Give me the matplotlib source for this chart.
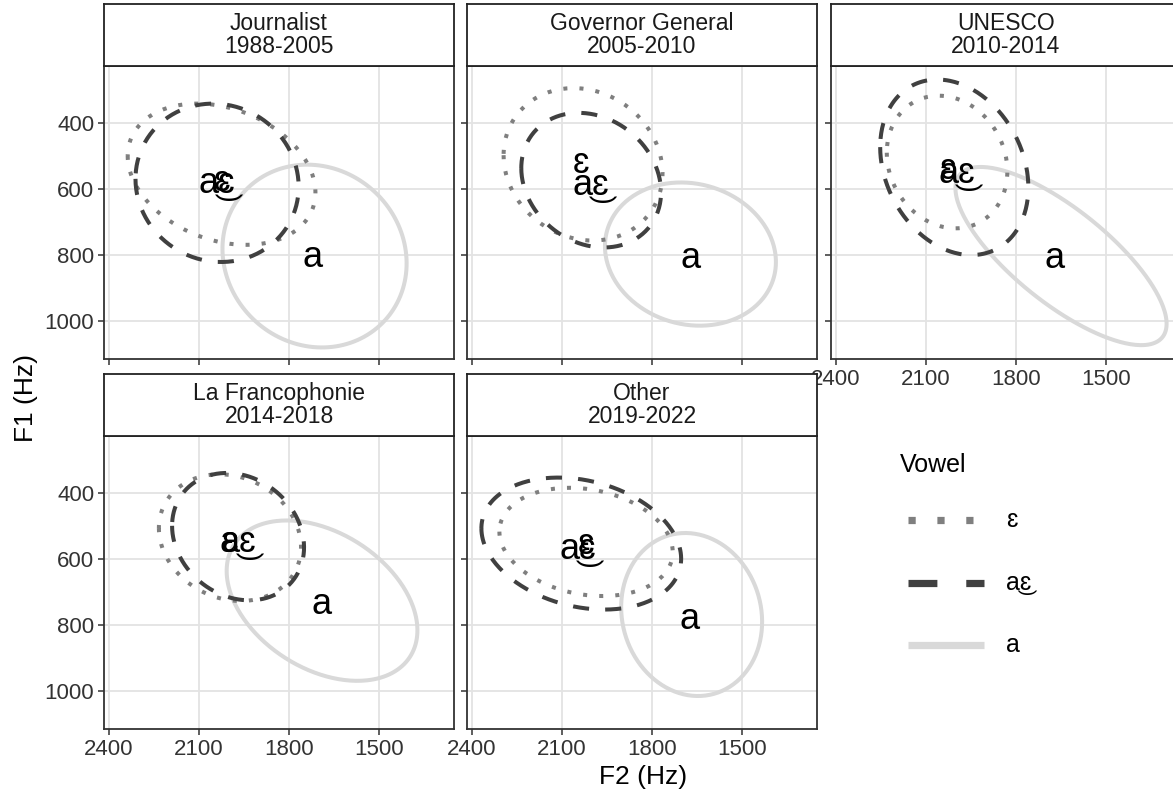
import numpy as np
import matplotlib.pyplot as plt
from matplotlib.lines import Line2D

plt.rcParams['font.family'] = ['Liberation Sans', 'DejaVu Sans']

panels = ["Journalist\n1988-2005", "Governor General\n2005-2010", "UNESCO\n2010-2014",
          "La Francophonie\n2014-2018", "Other\n2019-2022"]
vowels = ["ɛ", "a\u035cɛ", "a"]

# per vowel: ellipse centre F2, F1, half-width (F2), half-height (F1), tilt
eps_f2 = [2025, 2030, 2030, 1997, 2020]
eps_f1 = [555, 525, 518, 535, 548]
eps_w = [313, 265, 201, 237, 289]
eps_h = [214, 231, 201, 192, 164]
eps_r = [-0.26, -0.12, -0.14, -0.15, -0.19]

ae_f2 = [2040, 2003, 2006, 1970, 2036]
ae_f1 = [581, 573, 534, 532, 553]
ae_w = [272, 233, 247, 220, 333]
ae_h = [240, 204, 266, 193, 200]
ae_r = [-0.05, -0.18, -0.23, -0.17, -0.23]

a_f2 = [1715, 1672, 1650, 1690, 1668]
a_f1 = [803, 797, 803, 726, 768]
a_w = [307, 285, 352, 318, 235]
a_h = [277, 217, 270, 243, 247]
a_r = [-0.08, -0.11, -0.76, -0.37, -0.09]

# label positions (vowel means)
eps_lab_f2 = [2024, 2036, 2027, 1997, 2020]
eps_lab_f1 = [578, 521, 542, 550, 556]
ae_lab_f2 = [2040, 2003, 1998, 1970, 2048]
ae_lab_f1 = [582, 588, 552, 551, 572]
a_lab_f2 = [1720, 1672, 1670, 1691, 1676]
a_lab_f1 = [806, 809, 809, 737, 783]

data = {
    "ɛ": (eps_f2, eps_f1, eps_w, eps_h, eps_r),
    "a\u035cɛ": (ae_f2, ae_f1, ae_w, ae_h, ae_r),
    "a": (a_f2, a_f1, a_w, a_h, a_r),
}
labels = {
    "ɛ": (eps_lab_f2, eps_lab_f1),
    "a\u035cɛ": (ae_lab_f2, ae_lab_f1),
    "a": (a_lab_f2, a_lab_f1),
}
styles = {
    "ɛ": dict(color='#7f7f7f', ls=(0, (1, 3))),
    "a\u035cɛ": dict(color='#404040', ls=(0, (4, 4))),
    "a": dict(color='#d9d9d9', ls='-'),
}
draw_order = ["a", "ɛ", "a\u035cɛ"]

xticks = [2400, 2100, 1800, 1500]
yticks = [400, 600, 800, 1000]


def ellipse(f2, f1, w, h, r):
    t = np.linspace(0, 2 * np.pi, 300)
    x = f2 + w * np.cos(t)
    y = f1 + h * (r * np.cos(t) + np.sqrt(1 - r * r) * np.sin(t))
    return x, y


W, H = 1173, 794
fig = plt.figure(figsize=(W / 100, H / 100), dpi=100)

# plotting area (left, top) in pixels
pos = [(104, 66), (467, 66), (831, 66), (104, 436), (467, 436)]
pw, ph, sh = 350, 293, 62
edge = '#333333'

for i, (left, top) in enumerate(pos):
    ax = fig.add_axes([left / W, 1 - (top + ph) / H, pw / W, ph / H])
    for v in draw_order:
        f2, f1, w, h, r = data[v]
        x, y = ellipse(f2[i], f1[i], w[i], h[i], r[i])
        ax.plot(x, y, lw=2.9, solid_capstyle='butt', **styles[v])
    for v in vowels:
        lx, ly = labels[v]
        ax.text(lx[i], ly[i], v, fontsize=26, ha='center', va='center', color='black')
    ax.set_xlim(2417, 1250)
    ax.set_ylim(1115, 227)
    ax.set_xticks(xticks)
    ax.set_yticks(yticks)
    ax.grid(True, color='#e3e3e3', lw=1.3)
    ax.set_axisbelow(True)
    for s in ax.spines.values():
        s.set_color(edge)
        s.set_linewidth(1.3)
    ax.tick_params(length=4, width=1.1, color=edge, labelsize=16, labelcolor='#333333', pad=3)
    if i not in (2, 3, 4):
        ax.tick_params(labelbottom=False)
    if i not in (0, 3):
        ax.tick_params(labelleft=False)

    # strip
    sax = fig.add_axes([left / W, 1 - top / H, pw / W, sh / H])
    sax.set_xticks([])
    sax.set_yticks([])
    for s in sax.spines.values():
        s.set_color('#222222')
        s.set_linewidth(1.3)
    sax.text(0.5, 0.5, panels[i], ha='center', va='center', fontsize=16.5,
             color='#1a1a1a', linespacing=1.0, transform=sax.transAxes)

fig.text(643 / W, 1 - 777 / H, "F2 (Hz)", ha='center', va='center', fontsize=19)
fig.text(26 / W, 1 - 398 / H, "F1 (Hz)", ha='center', va='center', fontsize=19, rotation=90)

# legend
fig.text(900 / W, 1 - 465 / H, "Vowel", ha='left', va='center', fontsize=18)
key_y = [520, 583, 645]
for v, ky in zip(vowels, key_y):
    line = Line2D([908 / W, 984 / W], [1 - ky / H, 1 - ky / H], transform=fig.transFigure,
                  lw=5.2, color=styles[v]['color'], ls=styles[v]['ls'], solid_capstyle='butt')
    fig.add_artist(line)
    fig.text(1006 / W, 1 - ky / H, v, ha='left', va='center', fontsize=18)

fig.savefig('out.png', dpi=100)
